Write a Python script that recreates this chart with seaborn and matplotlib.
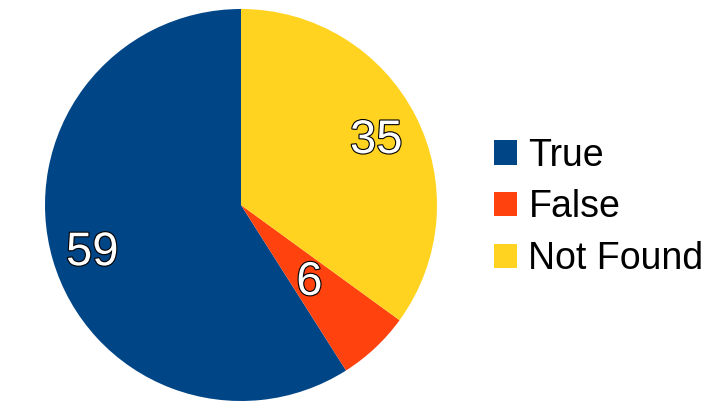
import numpy as np
import matplotlib
matplotlib.use("Agg")
import matplotlib.pyplot as plt
import matplotlib.patheffects as pe
from matplotlib.patches import Patch
import seaborn as sns

labels = ["True", "False", "Not Found"]
counts = [59, 6, 35]
colors = ["#004586", "#ff420e", "#ffd320"]

sns.set_theme(style="white")
plt.rcParams["font.family"] = ["Liberation Sans", "DejaVu Sans"]
plt.rcParams["text.color"] = "black"

fig = plt.figure(figsize=(7.27, 4.09), dpi=100)
# pie centre at (241, 205) px, radius 196 px
ax = fig.add_axes([45 / 727, 8 / 409, 392 / 727, 392 / 409])
wedges, _ = ax.pie(counts, colors=colors, startangle=90, counterclock=True,
                   wedgeprops=dict(linewidth=0))
ax.set_xlim(-1, 1)
ax.set_ylim(-1, 1)
ax.set_aspect("equal")

# label radius per slice (the small slice keeps its label nearer the centre)
label_r = {"True": 0.79, "False": 0.51, "Not Found": 0.775}
for w, lab, n in zip(wedges, labels, counts):
    mid = np.deg2rad((w.theta1 + w.theta2) / 2)
    r = label_r[lab]
    ax.text(r * np.cos(mid), r * np.sin(mid), str(n), ha="center",
            va="center_baseline", fontsize=34, color="white",
            path_effects=[pe.withStroke(linewidth=1.6, foreground="black")])

handles = [Patch(facecolor=c, edgecolor="none") for c in colors]
fig.legend(handles, labels, loc="center left", bbox_to_anchor=(494 / 727, 0.493),
           frameon=False, fontsize=27, handlelength=0.62, handleheight=0.62,
           handletextpad=0.3, labelspacing=0.42, borderpad=0, borderaxespad=0,
           labelcolor="black")

fig.savefig("out.png", dpi=100)
